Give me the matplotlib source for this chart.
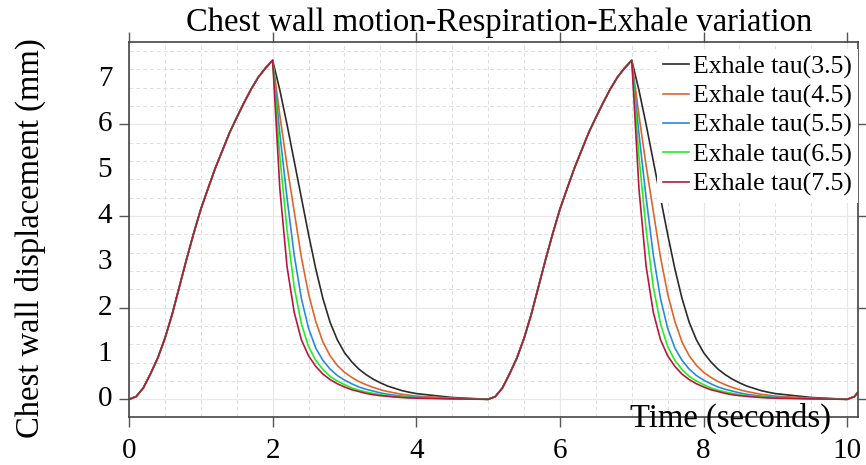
import numpy as np
import matplotlib
matplotlib.use("Agg")
import matplotlib.pyplot as plt
from matplotlib.ticker import MultipleLocator

plt.rcParams['font.family'] = ['Liberation Serif', 'DejaVu Serif']

# ---- data ----
# inhale phase (same for every curve), time from start of cycle (s)
inhale_t = [0.0, 0.1, 0.2, 0.3, 0.4, 0.5, 0.6, 0.7, 0.8, 0.9, 1.0,
            1.1, 1.2, 1.3, 1.4, 1.5, 1.6, 1.7, 1.8, 1.9, 2.0]
inhale_v = [0.0, 0.06, 0.25, 0.56, 0.90, 1.33, 1.85, 2.45, 3.05, 3.62, 4.15,
            4.60, 5.04, 5.43, 5.82, 6.15, 6.47, 6.77, 7.03, 7.23, 7.40]

# exhale phase, time since peak (s)
exhale_dt = [0.0, 0.1, 0.2, 0.3, 0.4, 0.5, 0.6, 0.7, 0.8, 0.9, 1.0,
             1.1, 1.2, 1.3, 1.4, 1.5, 1.6, 1.7, 1.8, 1.9, 2.0, 2.5, 3.0]
exhale_tau35 = [7.40, 6.75, 6.00, 5.20, 4.40, 3.60, 2.85, 2.20, 1.68, 1.30, 1.02,
                0.82, 0.66, 0.54, 0.44, 0.36, 0.29, 0.24, 0.19, 0.155, 0.125, 0.04, 0.0]
exhale_tau45 = [7.40, 6.20, 5.10, 4.10, 3.10, 2.30, 1.70, 1.25, 0.95, 0.74, 0.59,
                0.48, 0.39, 0.32, 0.26, 0.21, 0.17, 0.14, 0.11, 0.09, 0.07, 0.025, 0.0]
exhale_tau55 = [7.40, 5.80, 4.40, 3.15, 2.20, 1.55, 1.12, 0.85, 0.66, 0.52, 0.42,
                0.34, 0.27, 0.22, 0.18, 0.14, 0.11, 0.09, 0.07, 0.055, 0.045, 0.015, 0.0]
exhale_tau65 = [7.40, 5.30, 3.70, 2.45, 1.65, 1.15, 0.85, 0.65, 0.50, 0.40, 0.32,
                0.25, 0.20, 0.16, 0.13, 0.10, 0.08, 0.065, 0.05, 0.04, 0.035, 0.012, 0.0]
exhale_tau75 = [7.40, 4.60, 2.90, 1.90, 1.30, 0.95, 0.72, 0.55, 0.43, 0.34, 0.27,
                0.21, 0.17, 0.13, 0.10, 0.08, 0.065, 0.05, 0.04, 0.03, 0.025, 0.01, 0.0]

labels = ['Exhale tau(3.5)', 'Exhale tau(4.5)', 'Exhale tau(5.5)',
          'Exhale tau(6.5)', 'Exhale tau(7.5)']
colors = ['#2b2b2b', '#E0652A', '#2a8ad8', '#22ee22', '#B8163F']
exhales = [exhale_tau35, exhale_tau45, exhale_tau55, exhale_tau65, exhale_tau75]

cycle_starts = [0.0, 5.0, 10.0]
peak_time = 2.0

xtick_vals = [0, 2, 4, 6, 8, 10]
ytick_vals = [0, 1, 2, 3, 4, 5, 6, 7]

# ---- figure ----
fig = plt.figure(figsize=(8.66, 4.65), dpi=100)
ax = fig.add_axes([129/866, 48/465, 729/866, 375/465])

it = np.array(inhale_t)
iv = np.array(inhale_v)
ed = np.array(exhale_dt)
for ex, c, lab in zip(exhales, colors, labels):
    ev = np.array(ex)
    ts, vs = [], []
    for s in cycle_starts:
        ts.append(s + it); vs.append(iv)
        ts.append(s + peak_time + ed[1:]); vs.append(ev[1:])
    ax.plot(np.concatenate(ts), np.concatenate(vs), color=c, lw=1.2, label=lab)

ax.set_xlim(0, 10.15)
ax.set_ylim(-0.386, 7.80)

ax.xaxis.set_minor_locator(MultipleLocator(0.5))
ax.yaxis.set_major_locator(MultipleLocator(2))
ax.yaxis.set_minor_locator(MultipleLocator(0.4))
ax.set_xticks(xtick_vals)
ax.set_xticklabels([str(v) for v in xtick_vals])

ax.tick_params(which='major', direction='out', length=7, width=1.0, color='#555555',
               top=True, right=True, bottom=True, left=True,
               labelsize=21, pad=8, labelleft=False)
ax.tick_params(which='minor', length=0)

ax.grid(which='minor', color='#dedede', linestyle=(0, (4, 3)), linewidth=0.7)
ax.grid(which='major', color='#e8e8e8', linestyle='-', linewidth=0.9)
ax.set_axisbelow(True)

for sp in ax.spines.values():
    sp.set_color('#444444')
    sp.set_linewidth(1.2)

# y tick labels at every integer
ytr = ax.get_yaxis_transform()
for v in ytick_vals:
    ax.text(-0.023, v, str(v), transform=ytr, ha='right', va='center', fontsize=21)

ax.set_title('Chest wall motion-Respiration-Exhale variation', fontsize=23.5, pad=8,
             x=0.5075)
fig.text(30/866, 1 - 238/465, 'Chest wall displacement (mm)', rotation=90,
         ha='center', va='center', fontsize=23.5)
fig.text(731/866, 1 - 418/465, 'Time (seconds)', ha='center', va='center', fontsize=23.5)

leg = ax.legend(loc='upper right', bbox_to_anchor=(1.0, 1.0 - 7/375),
                fontsize=18.5, frameon=True, fancybox=False,
                borderaxespad=0.0, borderpad=0.25, handlelength=1.0,
                handletextpad=0.15, labelspacing=0.23)
leg.get_frame().set_edgecolor('none')
leg.get_frame().set_facecolor('white')
leg.get_frame().set_alpha(1.0)

fig.savefig('out.png', dpi=100)
